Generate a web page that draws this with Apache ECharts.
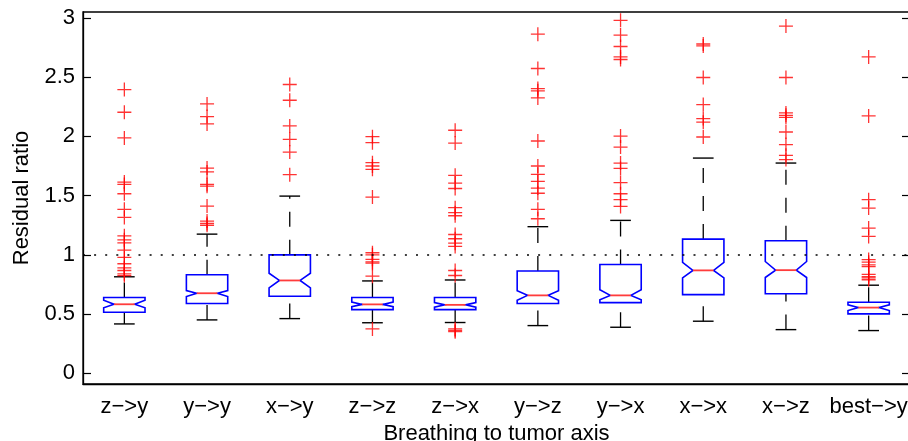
<!DOCTYPE html>
<html>
<head>
<meta charset="utf-8">
<script src="https://cdn.jsdelivr.net/npm/echarts@6/dist/echarts.min.js"></script>
<style>
  html, body { margin: 0; padding: 0; background: #fff; }
  #chart { width: 908px; height: 441px; }
</style>
</head>
<body>
<div id="chart"></div>
<script>
// Categories: breathing axis -> tumor axis
const categories = ['z\u2212>y', 'y\u2212>y', 'x\u2212>y', 'z\u2212>z', 'z\u2212>x', 'y\u2212>z', 'y\u2212>x', 'x\u2212>x', 'x\u2212>z', 'best\u2212>y'];

// Box statistics per category
const whiskerLow  = [0.417, 0.451, 0.462, 0.427, 0.429, 0.403, 0.389, 0.440, 0.369, 0.361];
const q1          = [0.516, 0.589, 0.651, 0.538, 0.538, 0.589, 0.597, 0.664, 0.672, 0.502];
const notchLow    = [0.553, 0.648, 0.722, 0.562, 0.558, 0.617, 0.620, 0.806, 0.809, 0.530];
const median      = [0.583, 0.676, 0.784, 0.582, 0.578, 0.658, 0.658, 0.869, 0.871, 0.555];
const notchHigh   = [0.617, 0.699, 0.845, 0.602, 0.598, 0.697, 0.705, 0.936, 0.944, 0.578];
const q3          = [0.640, 0.832, 1.000, 0.640, 0.640, 0.864, 0.919, 1.133, 1.119, 0.600];
const whiskerHigh = [0.815, 1.175, 1.496, 0.780, 0.788, 1.238, 1.291, 1.817, 1.775, 0.744];

// Outliers per category
const outliers = [
  [2.395, 2.204, 1.987, 1.614, 1.595, 1.516, 1.384, 1.316, 1.161, 1.127, 1.102, 1.04, 0.978, 0.925, 0.891, 0.868, 0.84, 0.825],
  [2.274, 2.167, 2.105, 1.733, 1.70, 1.595, 1.58, 1.412, 1.285, 1.265, 1.25],
  [2.438, 2.305, 2.088, 1.975, 1.868, 1.677],
  [1.998, 1.947, 1.778, 1.75, 1.722, 1.488, 1.018, 1.0, 0.962, 0.94, 0.93, 0.82, 0.375],
  [2.052, 1.944, 1.671, 1.606, 1.56, 1.398, 1.356, 1.33, 1.172, 1.136, 1.099, 1.071, 0.868, 0.826, 0.375, 0.362, 0.352],
  [2.863, 2.573, 2.404, 2.385, 2.325, 1.961, 1.75, 1.68, 1.62, 1.564, 1.52, 1.384, 1.305],
  [2.98, 2.855, 2.759, 2.671, 2.649, 2.003, 1.91, 1.775, 1.73, 1.609, 1.516, 1.466, 1.409],
  [2.78, 2.764, 2.497, 2.269, 2.15, 2.12, 1.995],
  [2.931, 2.497, 2.198, 2.178, 2.16, 2.037, 1.931, 1.84, 1.804],
  [2.671, 2.173, 1.466, 1.395, 1.226, 1.156, 0.96, 0.938, 0.916, 0.90, 0.835, 0.817, 0.806, 0.79]
];

// Y axis tick values
const yTicks = [0, 0.5, 1, 1.5, 2, 2.5, 3];
const referenceLevel = 1;

const FONT = '"Liberation Sans", Arial, Helvetica, sans-serif';
const FONT_SIZE = 22;

const boxData = categories.map((c, i) => [i, whiskerLow[i], q1[i], notchLow[i], median[i], notchHigh[i], q3[i], whiskerHigh[i]]);
const outlierData = [];
outliers.forEach((list, i) => list.forEach(v => outlierData.push([i, v])));

function renderBox(params, api) {
  const idx = api.value(0);
  const band = api.size([1, 0])[0];
  const w = band * 0.25;     // half box width
  const wi = w / 2;          // half width at the notch / caps
  const c = api.coord([idx, 0])[0];
  const y = k => api.coord([idx, api.value(k)])[1];
  const yLo = y(1), yQ1 = y(2), yNl = y(3), yMed = y(4), yNh = y(5), yQ3 = y(6), yHi = y(7);

  const dash = { stroke: '#000', lineWidth: 1.3, lineDash: [15, 13] };
  const children = [
    { type: 'line', shape: { x1: c, y1: yQ3, x2: c, y2: yHi }, style: dash },
    { type: 'line', shape: { x1: c, y1: yLo, x2: c, y2: yQ1 }, style: dash },
    { type: 'line', shape: { x1: c - wi, y1: yHi, x2: c + wi, y2: yHi }, style: { stroke: '#000', lineWidth: 1.4 } },
    { type: 'line', shape: { x1: c - wi, y1: yLo, x2: c + wi, y2: yLo }, style: { stroke: '#000', lineWidth: 1.4 } },
    {
      type: 'polygon',
      shape: {
        points: [
          [c - w, yQ3], [c + w, yQ3], [c + w, yNh], [c + wi, yMed], [c + w, yNl],
          [c + w, yQ1], [c - w, yQ1], [c - w, yNl], [c - wi, yMed], [c - w, yNh]
        ]
      },
      style: { fill: 'none', stroke: '#0000ff', lineWidth: 1.6 }
    },
    { type: 'line', shape: { x1: c - wi, y1: yMed, x2: c + wi, y2: yMed }, style: { stroke: '#ff3c3c', lineWidth: 1.8 } }
  ];
  return { type: 'group', children };
}

const chart = echarts.init(document.getElementById('chart'), null, { renderer: 'canvas' });
chart.setOption({
  animation: false,
  backgroundColor: '#fff',
  grid: {
    left: 83, top: 12, width: 827, height: 372,
    show: true, borderColor: '#000', borderWidth: 1.3,
    containLabel: false, outerBoundsMode: 'none'
  },
  xAxis: {
    type: 'category',
    data: categories,
    boundaryGap: true,
    name: 'Breathing to tumor axis',
    nameLocation: 'middle',
    nameGap: 35,
    nameTextStyle: { fontFamily: FONT, fontSize: FONT_SIZE, color: '#000' },
    axisLine: { show: true, onZero: false, lineStyle: { color: '#000', width: 1.3 } },
    axisTick: { show: false },
    axisLabel: { fontFamily: FONT, fontSize: FONT_SIZE, color: '#000', margin: 12, interval: 0 },
    splitLine: { show: false }
  },
  yAxis: [
    {
      type: 'value',
      min: -0.09,
      max: 3.05,
      name: 'Residual ratio',
      nameLocation: 'middle',
      nameGap: 50,
      nameTextStyle: { fontFamily: FONT, fontSize: FONT_SIZE, color: '#000' },
      axisLine: { show: true, onZero: false, lineStyle: { color: '#000', width: 1.3 } },
      axisTick: { show: true, inside: true, length: 8, customValues: yTicks, lineStyle: { color: '#000', width: 1.2 } },
      axisLabel: { fontFamily: FONT, fontSize: FONT_SIZE, color: '#000', margin: 8, customValues: yTicks },
      splitLine: { show: false }
    },
    {
      type: 'value',
      position: 'right',
      min: -0.09,
      max: 3.05,
      axisLine: { show: false },
      axisTick: { show: true, inside: true, length: 8, customValues: yTicks, lineStyle: { color: '#000', width: 1.2 } },
      axisLabel: { show: false },
      splitLine: { show: false }
    }
  ],
  series: [
    {
      type: 'custom',
      renderItem: renderBox,
      data: boxData,
      encode: { x: 0, y: [1, 2, 3, 4, 5, 6, 7] },
      z: 2,
      silent: true
    },
    {
      type: 'scatter',
      data: outlierData,
      symbol: 'path://M5,0 L5,10 M0,5 L10,5',
      symbolSize: 14,
      itemStyle: { color: 'transparent', borderColor: '#ff0000', borderWidth: 1.3 },
      z: 3,
      silent: true,
      markLine: {
        silent: true,
        symbol: ['none', 'none'],
        label: { show: false },
        lineStyle: { color: '#000', type: [2, 9.1], width: 1.5 },
        data: [{ yAxis: referenceLevel }]
      }
    }
  ]
});
</script>
</body>
</html>
